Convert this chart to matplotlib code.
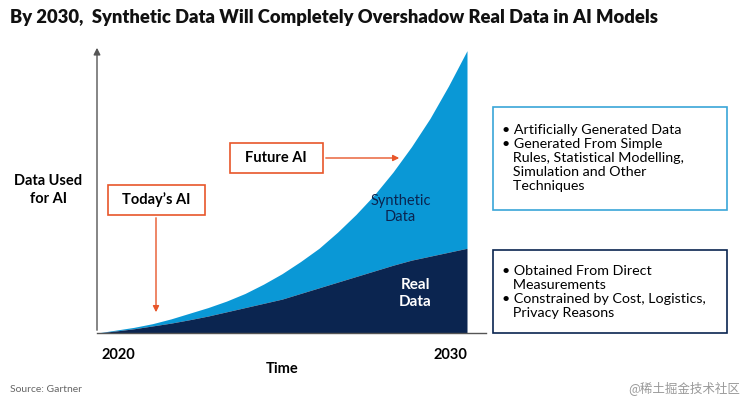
import matplotlib
matplotlib.use("Agg")
import matplotlib.pyplot as plt
from matplotlib.patches import Rectangle

years = [2020, 2020.5, 2021, 2021.5, 2022, 2022.5, 2023, 2023.5, 2024, 2024.5, 2025, 2025.5,
         2026, 2026.5, 2027, 2027.5, 2028, 2028.5, 2029, 2029.5, 2030]
total_data = [0, 1, 2, 3.3, 5, 7, 9, 11.3, 14, 17.3, 21, 25.3, 30, 35.7, 42, 49, 57, 66, 76, 87.5, 100]
real_data = [0, 0.7, 1.5, 2.5, 3.5, 4.7, 6, 7.5, 9, 10.5, 12, 14, 16, 18, 20, 22, 24, 25.8, 27.2, 28.6, 30]
tick_labels = ["2020", "2030"]

NAVY = "#0b2550"
BLUE = "#0a98d6"
ORANGE = "#e8562a"

plt.rcParams['font.family'] = ['Lato', 'DejaVu Sans']
fig = plt.figure(figsize=(7.5, 4.05), dpi=100)
W, H = 750, 405
def fx(px): return px / W
def fy(py): return 1 - py / H

ax = fig.add_axes([fx(97), fy(333), fx(467) - fx(97), fy(45) - fy(333)])
ax.fill_between(years, real_data, total_data, color=BLUE, lw=0)
ax.fill_between(years, 0, real_data, color=NAVY, lw=0)
ax.set_xlim(2020, 2030)
ax.set_ylim(0, 102)
for s in ["top", "right", "left", "bottom"]:
    ax.spines[s].set_visible(False)
ax.set_xticks([]); ax.set_yticks([])
ax.annotate("", xy=(0, 1.0), xytext=(0, 0), xycoords="axes fraction",
            arrowprops=dict(arrowstyle="-|>", color="#555555", lw=1))
ax.plot([2020, 2030.5], [0, 0], color="#555555", lw=1, clip_on=False)

ax.text(2028.2, 44, "Synthetic\nData", color="#0b2550", fontsize=10.5, ha="center", va="center")
ax.text(2028.6, 14, "Real\nData", color="white", fontsize=11, fontweight="bold", ha="center", va="center")

fig.text(fx(10), fy(18), "By 2030,  Synthetic Data Will Completely Overshadow Real Data in AI Models",
         fontsize=13.2, fontweight="heavy", color="#111111", va="center")
fig.text(fx(48), fy(190), "Data Used\nfor AI", fontsize=10.5, fontweight="bold", ha="center", va="center", linespacing=1.3)
fig.text(fx(118), fy(355), tick_labels[0], fontsize=10.5, fontweight="bold", ha="center", va="center")
fig.text(fx(450), fy(355), tick_labels[1], fontsize=10.5, fontweight="bold", ha="center", va="center")
fig.text(fx(282), fy(369), "Time", fontsize=10.5, fontweight="bold", ha="center", va="center")
fig.text(fx(10), fy(390), "Source: Gartner", fontsize=7.5, color="#666666", va="center")
fig.text(fx(740), fy(388), "@稀土掘金技术社区", fontsize=9, color="#999999", ha="right", va="center",
         family=['Noto Sans CJK SC', 'DejaVu Sans'])

def box(x0, y0, x1, y1, ec, lw=1.2):
    fig.patches.append(Rectangle((fx(x0), fy(y1)), fx(x1) - fx(x0), fy(y0) - fy(y1),
                                 transform=fig.transFigure, fill=False, ec=ec, lw=lw))

box(108, 185, 205, 215, ORANGE)
fig.text(fx(156), fy(200), "Today’s AI", fontsize=10.5, fontweight="bold", ha="center", va="center")
box(230, 143, 323, 173, ORANGE)
fig.text(fx(276), fy(158), "Future AI", fontsize=10.5, fontweight="bold", ha="center", va="center")

fig.patches.append(matplotlib.patches.FancyArrowPatch((fx(156), fy(215)), (fx(156), fy(315)),
    transform=fig.transFigure, arrowstyle="-|>", mutation_scale=9, color=ORANGE, lw=1))
fig.patches.append(matplotlib.patches.FancyArrowPatch((fx(323), fy(158)), (fx(402), fy(158)),
    transform=fig.transFigure, arrowstyle="-|>", mutation_scale=9, color=ORANGE, lw=1))

box(493, 107, 727, 210, "#3aa6d8")
fig.text(fx(502), fy(158), "• Artificially Generated Data\n• Generated From Simple\n   Rules, Statistical Modelling,\n   Simulation and Other\n   Techniques",
         fontsize=10.3, va="center", linespacing=1.2)
box(493, 250, 727, 333, NAVY)
fig.text(fx(502), fy(292), "• Obtained From Direct\n   Measurements\n• Constrained by Cost, Logistics,\n   Privacy Reasons",
         fontsize=10.3, va="center", linespacing=1.2)

fig.savefig("out.png", dpi=100)
